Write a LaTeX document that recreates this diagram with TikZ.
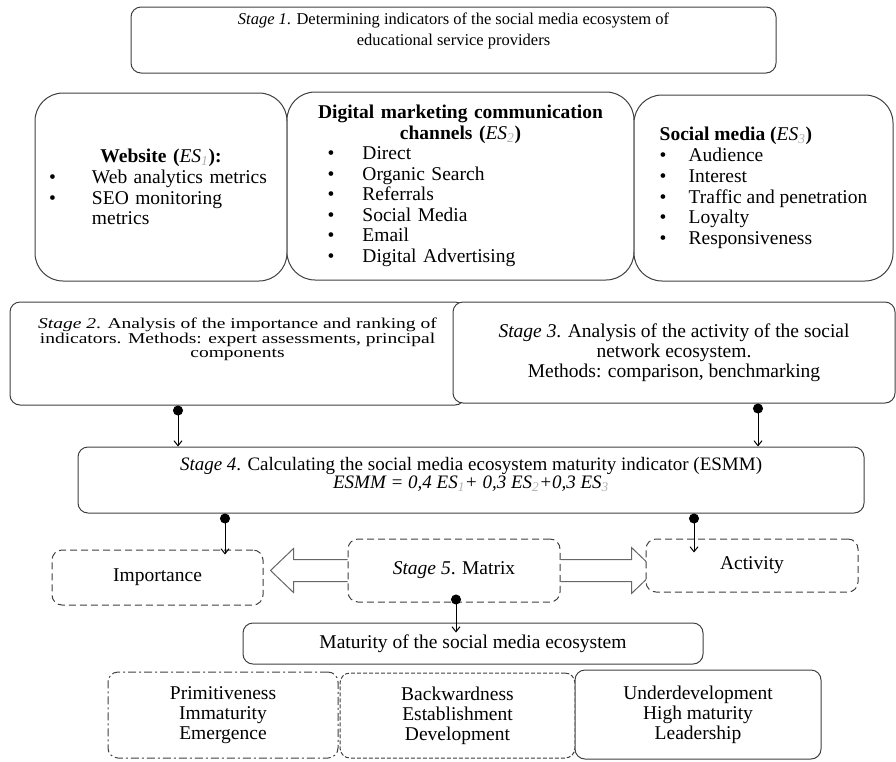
\documentclass[tikz,border=0pt]{standalone}
\usepackage{fontspec}
\setmainfont{Liberation Serif}
\newfontfamily\widefont{Liberation Serif}[FakeStretch=1.3]
\usetikzlibrary{arrows.meta,calc,backgrounds}

\tikzset{
  box/.style={draw=black!75, line width=1pt, rounded corners=10pt, align=center, fill=white},
  bigbox/.style={box, rounded corners=28pt, align=left},
  dashbox/.style={box, dash pattern=on 7pt off 4pt},
  dotline/.style={line width=1pt, {Circle[length=10pt]}-{Straight Barb[length=5pt,width=8pt]}},
  hollow/.style={draw=black!60, line width=1pt, fill=white},
}
\newcommand{\es}[1]{{\normalfont\itshape ES\textsubscript{\textcolor{black!30}{#1}}}}
\newcommand{\bul}[2][35pt]{\makebox[#1][l]{\textbullet}#2}
% text lifted above the middle of its box
\newcommand{\up}[2]{\raisebox{#1}[0pt][0pt]{\begin{tabular}{@{}c@{}}#2\end{tabular}}}

\begin{document}
\begin{tikzpicture}[x=1pt,y=-1pt,font=\fontsize{19.5}{20}\selectfont]
\useasboundingbox (0,0) rectangle (896,761);

% stage 1 and the three groups of indicators
\node[box, minimum width=645pt, minimum height=66pt, font=\fontsize{16.5}{21}\selectfont] (s1) at (453.5,40)
  {\up{5pt}{\textit{Stage 1}. Determining indicators of the social media ecosystem of\\educational service providers}};
\node[bigbox, minimum width=252pt, minimum height=188pt, text width=240pt, font=\fontsize{19.5}{20.8}\selectfont] (web) at (161,187)
  {{\centering\textbf{Website (\es{1}):}\par}\hspace*{8pt}\bul[43pt]{Web analytics metrics}\\\hspace*{8pt}\bul[43pt]{SEO monitoring}\\\hspace*{51pt}metrics};
\node[bigbox, minimum width=347pt, minimum height=188pt, text width=310pt, font=\fontsize{19.5}{20.5}\selectfont] (dmc) at (460.5,186)
  {{\centering\textbf{Digital marketing communication\\channels (\es{2})}\par}\hspace*{22pt}\bul{Direct}\\\hspace*{22pt}\bul{Organic Search}\\\hspace*{22pt}\bul{Referrals}\\\hspace*{22pt}\bul{Social Media}\\\hspace*{22pt}\bul{Email}\\\hspace*{22pt}\bul{Digital Advertising}};
\node[bigbox, minimum width=259pt, minimum height=186pt, font=\fontsize{19.5}{20.8}\selectfont] (sm) at (763.5,188)
  {\textbf{Social media (\es{3})}\\\bul[29pt]{Audience}\\\bul[29pt]{Interest}\\\bul[29pt]{Traffic and penetration}\\\bul[29pt]{Loyalty}\\\bul[29pt]{Responsiveness}};

% stages 2 - 4
\node[box, minimum width=455pt, minimum height=103pt, font=\widefont\fontsize{15}{14.5}\selectfont] (s2) at (237.5,353.5)
  {\up{10pt}{\textit{Stage 2}. Analysis of the importance and ranking of\\indicators. Methods: expert assessments, principal\\components}};
\node[box, minimum width=442pt, minimum height=101pt] (s3) at (674,352.5)
  {\textit{Stage 3}. Analysis of the activity of the social\\network ecosystem.\\Methods: comparison, benchmarking};
\node[box, minimum width=786pt, minimum height=66pt, font=\fontsize{19}{17}\selectfont] (s4) at (471,480)
  {\up{0pt}{\textit{Stage 4}. Calculating the social media ecosystem maturity indicator (ESMM)\\\textit{ESMM = 0,4 \es{1}+ 0,3 \es{2}+0,3 \es{3}}}};

% stage 5 and the matrix
\node[dashbox, minimum width=211pt, minimum height=55pt] (imp) at (157.5,577.5) {Importance};
\node[dashbox, minimum width=212pt, minimum height=63pt] (s5) at (454,570.5) {\textit{Stage 5}. Matrix};
\node[dashbox, minimum width=212pt, minimum height=53pt] (act) at (752,565.5) {Activity};
\node[box, minimum width=460pt, minimum height=41pt] (mat) at (473,643.5) {Maturity of the social media ecosystem};
\node[box, dash pattern=on 8pt off 3pt on 2pt off 3pt, minimum width=230pt, minimum height=86pt] (lvl1) at (223,715)
  {Primitiveness\\Immaturity\\Emergence};
\node[box, dash pattern=on 4pt off 2pt, minimum width=235pt, minimum height=85pt] (lvl2) at (457.5,715.5)
  {Backwardness\\Establishment\\Development};
\node[box, minimum width=246pt, minimum height=89pt] (lvl3) at (698,714.5)
  {Underdevelopment\\High maturity\\Leadership};

% connectors
\coordinate (x2) at (178,0);
\coordinate (x3) at (758,0);
\coordinate (xi) at (225,0);
\coordinate (xa) at (694,0);
\coordinate (xm) at (456,0);
\draw[dotline] (s2.south -| x2) -- (s4.north -| x2);
\draw[dotline] (s3.south -| x3) -- (s4.north -| x3);
\draw[dotline, shorten >=-5pt] (s4.south -| xi) -- (imp.north -| xi);
\draw[dotline, shorten >=-14pt] (s4.south -| xa) -- (act.north -| xa);
\draw[dotline, shorten <=-8pt, shorten >=-10pt] (s5.south -| xm) -- (mat.north -| xm);

\begin{scope}[on background layer]
\draw[hollow] let \p1=(s5.west), \p2=(imp.east) in
  (\x1,\y1+11pt) -- (\x2+30pt,\y1+11pt) -- (\x2+30pt,\y1+22pt) -- (\x2+7pt,\y1)
  -- (\x2+30pt,\y1-22pt) -- (\x2+30pt,\y1-11pt) -- (\x1,\y1-11pt);
\draw[hollow] let \p1=(s5.east), \p2=(act.west) in
  (\x1,\y1+11pt) -- (\x2-14pt,\y1+11pt) -- (\x2-14pt,\y1+23pt) -- (\x2+10pt,\y1)
  -- (\x2-14pt,\y1-23pt) -- (\x2-14pt,\y1-11pt) -- (\x1,\y1-11pt);
\end{scope}
\end{tikzpicture}
\end{document}
